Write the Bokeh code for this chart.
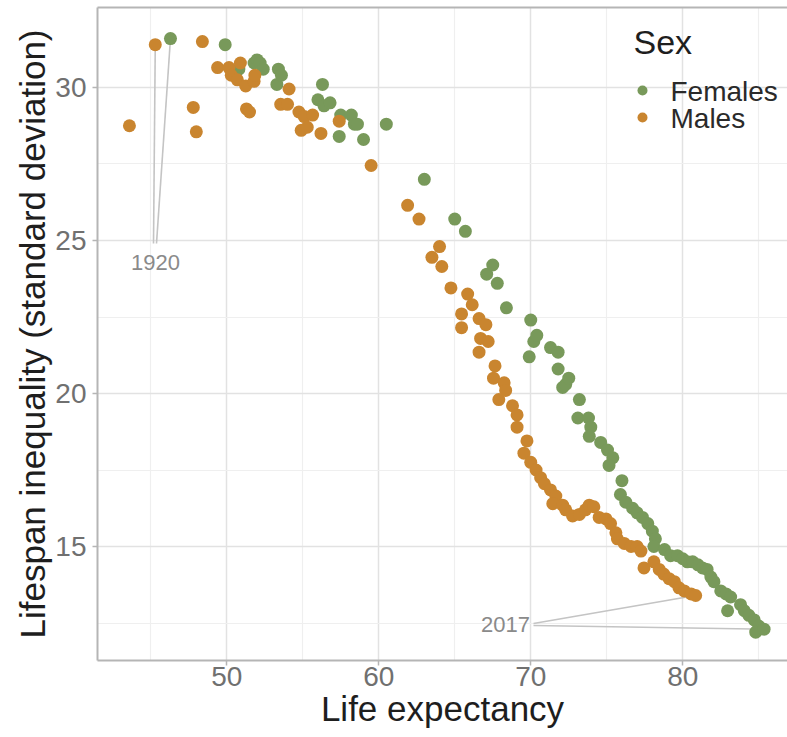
from bokeh.plotting import figure
from bokeh.models import Range1d, LinearAxis, FixedTicker
from bokeh.embed import file_html
from bokeh.resources import INLINE
from bokeh.core.properties import value

# ---------------- data ----------------
female_le = [46.3, 49.9, 50.8, 51.8, 52.0, 52.2, 52.4, 53.3, 53.4, 53.6, 56.0, 56.3, 56.4, 56.8,
             57.4, 57.5, 58.2, 58.4, 58.6, 59.0, 60.5, 63.0, 65.0, 65.7, 67.1, 67.5, 67.8, 68.4,
             69.9, 70.0, 70.2, 70.4, 71.3, 71.8, 71.8, 72.1, 72.3, 72.5, 73.2, 73.1, 73.8, 73.95,
             73.85, 74.6, 75.05, 75.4, 75.15, 76.0, 75.9, 76.25, 76.7, 77.0, 77.35, 77.7, 78.0,
             78.2, 78.1, 78.8, 79.2, 79.65, 80.0, 80.3, 80.65, 81.0, 81.3, 81.6, 81.85, 82.05,
             82.5, 82.85, 83.15, 82.95, 83.8, 84.05, 84.35, 84.7, 85.0, 84.8, 85.35]
female_sd = [31.6, 31.4, 30.6, 30.8, 30.9, 30.8, 30.6, 30.1, 30.6, 30.4, 29.6, 30.1, 29.4, 29.5,
             28.4, 29.1, 29.1, 28.8, 28.8, 28.3, 28.8, 27.0, 25.7, 25.3, 23.9, 24.2, 23.6, 22.8,
             21.2, 22.4, 21.7, 21.9, 21.5, 21.35, 20.8, 20.2, 20.3, 20.5, 19.8, 19.2, 19.2, 18.9,
             18.6, 18.4, 18.15, 17.9, 17.65, 17.15, 16.7, 16.45, 16.25, 16.1, 15.95, 15.75, 15.5,
             15.25, 15.0, 14.9, 14.7, 14.7, 14.6, 14.5, 14.5, 14.4, 14.3, 14.25, 14.0, 13.85,
             13.55, 13.45, 13.35, 12.9, 13.1, 12.9, 12.75, 12.6, 12.4, 12.2, 12.3]

male_le = [45.3, 43.6, 47.8, 48.0, 48.4, 49.4, 50.15, 50.9, 50.3, 50.7, 51.25, 51.8, 51.85, 51.3,
           51.5, 54.1, 53.55, 54.0, 54.75, 55.1, 55.65, 54.9, 55.3, 56.2, 57.4, 59.5, 61.9, 62.65,
           64.0, 63.5, 64.15, 64.75, 65.85, 66.15, 65.45, 65.45, 66.6, 67.05, 66.7, 67.2, 66.6,
           67.65, 67.55, 68.25, 68.35, 67.9, 68.8, 69.1, 69.1, 69.75, 69.55, 70.0, 70.35, 70.65,
           70.9, 71.3, 71.65, 71.45, 72.1, 72.3, 72.75, 73.2, 73.6, 73.85, 74.15, 74.5, 74.95,
           75.25, 75.6, 75.7, 76.15, 76.6, 77.0, 77.25, 77.45, 78.1, 78.45, 78.75, 79.1, 79.45,
           79.75, 80.1, 80.55, 80.85]
male_sd = [31.4, 28.75, 29.35, 28.55, 31.5, 30.65, 30.65, 30.8, 30.4, 30.25, 30.05, 30.2, 30.4,
           29.3, 29.2, 29.95, 29.45, 29.45, 29.2, 29.05, 29.1, 28.6, 28.7, 28.5, 28.9, 27.45, 26.15,
           25.7, 24.8, 24.45, 24.15, 23.45, 23.25, 22.9, 22.6, 22.15, 22.45, 22.25, 21.8, 21.7,
           21.35, 20.9, 20.5, 20.35, 20.1, 19.8, 19.6, 19.3, 18.9, 18.45, 18.05, 17.75, 17.5, 17.25,
           17.05, 16.85, 16.65, 16.4, 16.35, 16.2, 16.0, 16.05, 16.2, 16.35, 16.3, 15.95, 15.9,
           15.75, 15.45, 15.25, 15.1, 15.0, 15.0, 14.85, 14.3, 14.5, 14.25, 14.1, 13.95, 13.85,
           13.65, 13.55, 13.45, 13.4]

x_ticks = [50, 60, 70, 80]
x_minor = [45, 55, 65, 75, 85]
y_ticks = [15, 20, 25, 30]
y_minor = [12.5, 17.5, 22.5, 27.5]
series_names = ["Females", "Males"]
legend_title = "Sex"
year_labels = ["1920", "2017"]

# ---------------- layout ----------------
W, H = 787, 737
FL, FR, FT, FB = 97, 787, 7, 660
X0, X1 = 41.5, 86.89
Y0, Y1 = 11.275, 32.614

GREEN = "#78995a"
ORANGE = "#c9852f"
FONT = "Liberation Sans"


def px2x(px):
    return X0 + (px - FL) / (FR - FL) * (X1 - X0)


def px2y(py):
    return Y1 - (py - FT) / (FB - FT) * (Y1 - Y0)


def x2px(x):
    return FL + (x - X0) / (X1 - X0) * (FR - FL)


def y2px(y):
    return FT + (Y1 - y) / (Y1 - Y0) * (FB - FT)


p = figure(width=W, height=H, output_backend="svg", toolbar_location=None,
           x_range=Range1d(X0, X1), y_range=Range1d(Y0, Y1),
           min_border_left=FL, min_border_right=0, min_border_top=FT,
           min_border_bottom=H - FB)
p.outline_line_color = None
p.background_fill_color = "white"
p.border_fill_color = "white"

p.xaxis.ticker = FixedTicker(ticks=x_ticks, minor_ticks=x_minor)
p.yaxis.ticker = FixedTicker(ticks=y_ticks, minor_ticks=y_minor)

for g in (p.xgrid, p.ygrid):
    g.grid_line_color = "#e2e2e2"
    g.grid_line_width = 1.5
    g.minor_grid_line_color = "#efefef"
    g.minor_grid_line_width = 1.2

for ax in (p.xaxis, p.yaxis):
    ax.axis_line_color = "#b5b5b5"
    ax.axis_line_width = 2
    ax.major_tick_line_color = "#b5b5b5"
    ax.major_tick_line_width = 1.5
    ax.major_tick_in = 0
    ax.major_tick_out = 5
    ax.minor_tick_line_color = None
    ax.major_label_text_font = FONT
    ax.major_label_text_font_size = "28px"
    ax.major_label_text_color = "#707070"
    ax.axis_label_text_font = FONT
    ax.axis_label_text_font_size = "35px"
    ax.axis_label_text_font_style = "normal"
    ax.axis_label_text_color = "#1e1e1e"
    ax.axis_label_standoff = 0

p.xaxis.axis_label = "Life expectancy"
p.xaxis.major_label_standoff = 1
p.yaxis.axis_label = "Lifespan inequality (standard deviation)"
p.yaxis.major_label_standoff = 6

top = LinearAxis(ticker=FixedTicker(ticks=[]), major_tick_out=0, major_tick_in=0,
                 major_label_standoff=0, major_label_text_font_size="0px",
                 minor_tick_line_color=None, major_tick_line_color=None,
                 axis_line_color="#b5b5b5", axis_line_width=2)
p.add_layout(top, "above")

# ---------------- label segments ----------------
def seg(sx, sy, tx, ty, pad):
    # start in pixels, target in data; shortened by pad pixels
    ex, ey = x2px(tx), y2px(ty)
    dx, dy = ex - sx, ey - sy
    d = (dx * dx + dy * dy) ** 0.5
    ex, ey = ex - dx / d * pad, ey - dy / d * pad
    return px2x(sx), px2y(sy), px2x(ex), px2y(ey)


segs = [
    seg(153, 243, male_le[0], male_sd[0], 0),
    seg(156, 243, female_le[0], female_sd[0], 0),
    seg(533, 623, male_le[-1], male_sd[-1], 6),
    seg(533, 625, female_le[-1], female_sd[-1], 12),
]
p.segment([s[0] for s in segs], [s[1] for s in segs], [s[2] for s in segs], [s[3] for s in segs],
          line_color="#c4c4c4", line_width=1.6)

p.text(x=[px2x(155), px2x(505)], y=[px2y(262), px2y(624)], text=year_labels,
       text_font=value(FONT), text_font_size="22px", text_color="#8a8a8a",
       text_align="center", text_baseline="middle")

# ---------------- points ----------------
p.scatter(female_le, female_sd, size=13, fill_color=GREEN, line_color=None)
p.scatter(male_le, male_sd, size=13, fill_color=ORANGE, line_color=None)

# ---------------- legend (drawn inside the panel) ----------------
p.text(x=[px2x(633)], y=[px2y(41)], text=[legend_title], text_font=value(FONT),
       text_font_size="34px", text_color="#1e1e1e", text_align="left", text_baseline="middle")
p.scatter([px2x(642), px2x(642)], [px2y(90), px2y(117)], size=10,
          fill_color=[GREEN, ORANGE], line_color=None)
p.text(x=[px2x(670), px2x(670)], y=[px2y(91), px2y(118)], text=series_names,
       text_font=value(FONT), text_font_size="28px", text_color="#2a2a2a",
       text_align="left", text_baseline="middle")

open("out.html", "w").write(file_html(p, INLINE))
